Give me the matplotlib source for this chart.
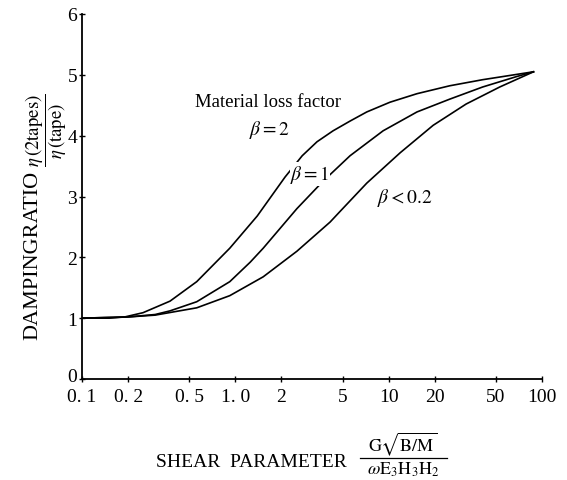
import matplotlib
matplotlib.use("Agg")
from matplotlib import pyplot as plt
import matplotlib.transforms as mtransforms
from matplotlib.lines import Line2D

# damping ratio curves vs shear parameter, one per material loss factor
x_b2 = [0.1, 0.15, 0.19, 0.25, 0.375, 0.56, 0.92, 1.39, 2.11, 2.73, 3.41, 4.34, 5.6, 7.2, 10.2, 15.3, 25, 41, 88]
y_b2 = [1.0, 1.0, 1.02, 1.09, 1.28, 1.6, 2.15, 2.68, 3.32, 3.67, 3.9, 4.08, 4.24, 4.39, 4.55, 4.69, 4.82, 4.92, 5.05]

x_b1 = [0.1, 0.2, 0.3, 0.375, 0.56, 0.92, 1.25, 1.52, 2.52, 3.73, 5.6, 9.2, 15.3, 25, 41, 68, 88]
y_b1 = [1.0, 1.02, 1.06, 1.12, 1.27, 1.6, 1.92, 2.15, 2.8, 3.25, 3.67, 4.08, 4.39, 4.6, 4.8, 4.97, 5.05]

x_b02 = [0.1, 0.2, 0.3, 0.56, 0.92, 1.52, 2.52, 4.15, 4.8, 7.2, 11.9, 19.5, 32, 53, 88]
y_b02 = [1.0, 1.02, 1.05, 1.17, 1.37, 1.68, 2.1, 2.58, 2.75, 3.22, 3.72, 4.17, 4.52, 4.8, 5.05]

x_ticks = [0.1, 0.2, 0.5, 1.0, 2, 5, 10, 20, 50, 100]
x_labels = ["0. 1", "0. 2", "0. 5", "1. 0", "2", "5", "10", "20", "50", "100"]
y_ticks = [0, 1, 2, 3, 4, 5, 6]

plt.rcParams["font.family"] = ["Liberation Serif", "DejaVu Serif"]
plt.rcParams["mathtext.fontset"] = "stix"

W, H = 567, 481
fig = plt.figure(figsize=(W / 100, H / 100), dpi=100)
ax = fig.add_axes([82 / W, 1 - 380 / H, 460 / W, 365 / H])

for xs, ys in [(x_b2, y_b2), (x_b1, y_b1), (x_b02, y_b02)]:
    ax.plot(xs, ys, color="black", lw=1.2)

ax.set_xscale("log")
ax.set_xlim(0.1, 100)
ax.set_ylim(0, 6)
ax.set_xticks(x_ticks)
ax.set_xticklabels(x_labels)
ax.minorticks_off()
ax.set_yticks(y_ticks)
ax.tick_params(direction="inout", length=5, width=1, labelsize=14)
ax.tick_params(axis="x", pad=4)
ax.tick_params(axis="y", pad=1)

# lift the "0" label a little so it clears "0. 1"
zero_lbl = ax.get_yticklabels()[0]
zero_lbl.set_transform(zero_lbl.get_transform() +
                       mtransforms.ScaledTranslation(0, 4 / 100, fig.dpi_scale_trans))

for s in ["top", "right"]:
    ax.spines[s].set_visible(False)
for s in ["left", "bottom"]:
    ax.spines[s].set_linewidth(1.3)

# curve annotations; white box breaks the curve under the label
gap = dict(facecolor="white", edgecolor="none", pad=0.5)
ax.text(1.63, 4.56, "Material loss factor", fontsize=13.5, ha="center", va="center")
ax.text(1.68, 4.11, r"$\beta=2$", fontsize=14, ha="center", va="center")
ax.text(3.07, 3.37, r"$\beta=1$", fontsize=14, ha="center", va="center", bbox=gap)
ax.text(12.8, 2.99, r"$\beta<0.2$", fontsize=14, ha="center", va="center")

# y axis title
fig.text(33 / W, 1 - 255 / H, "DAMPINGRATIO",
         rotation=90, fontsize=16, ha="center", va="center")
fig.text(46 / W, 1 - 130 / H,
         r"$\dfrac{\eta\,(\mathrm{2tapes})}{\eta\,(\mathrm{tape})}$",
         rotation=90, fontsize=13.5, ha="center", va="center")

# x axis title, fraction built from two lines of text and a bar
fig.text(251 / W, 1 - 463 / H, "SHEAR  PARAMETER",
         fontsize=14, ha="center", va="center")
fig.text(403 / W, 1 - 458 / H, r"$\mathrm{G}\sqrt{\mathrm{B/M}}$",
         fontsize=13, ha="center", va="bottom")
fig.text(403 / W, 1 - 461 / H, r"$\omega\mathrm{E_3H_3H_2}$",
         fontsize=13, ha="center", va="top")
fig.add_artist(Line2D([360 / W, 447 / W], [1 - 459 / H, 1 - 459 / H],
                      color="black", lw=0.9, transform=fig.transFigure))

fig.savefig("out.png", dpi=100)
